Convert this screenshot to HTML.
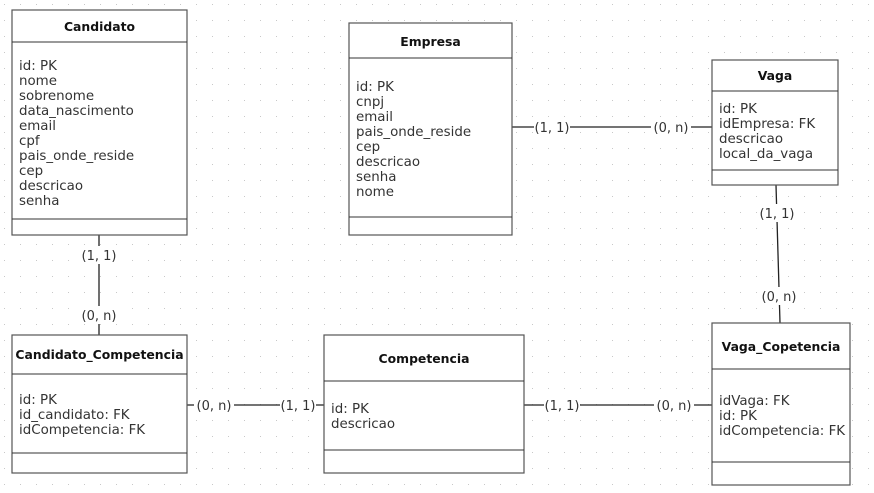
<!DOCTYPE html>
<html><head><meta charset="utf-8"><style>
html,body{margin:0;padding:0;background:#fff;}
svg{display:block;}
text{font-family:"DejaVu Sans","Liberation Sans",sans-serif;font-size:13.4px;fill:#333;}
.h{font-weight:bold;font-size:12.4px;fill:#111;text-anchor:middle;}
.l{font-size:13px;fill:#333;}
rect{fill:#fff;stroke:#555;stroke-width:1.2;}
line{stroke:#222;stroke-width:1.3;}
.s{stroke:#333;stroke-width:1;}
</style></head><body>
<svg width="874" height="493" xmlns="http://www.w3.org/2000/svg">
<defs><pattern id="g" width="16" height="16" patternUnits="userSpaceOnUse" x="4" y="4"><rect x="0" y="0" width="1" height="1" style="fill:#c8c8c8;stroke:none"/></pattern></defs>
<rect x="0" y="0" width="874" height="493" style="fill:url(#g);stroke:none"/>

<line x1="99" y1="235" x2="99" y2="335"/>
<line x1="512" y1="127" x2="712" y2="127"/>
<line x1="776" y1="185" x2="780" y2="323"/>
<line x1="187" y1="405" x2="324" y2="405"/>
<line x1="524" y1="405" x2="712" y2="405"/>

<rect x="81" y="246" width="36" height="18" style="fill:#fff;stroke:none"/>
<rect x="79" y="306" width="40" height="18" style="fill:#fff;stroke:none"/>
<rect x="534" y="118" width="36" height="18" style="fill:#fff;stroke:none"/>
<rect x="651" y="118" width="40" height="18" style="fill:#fff;stroke:none"/>
<rect x="759" y="204" width="36" height="18" style="fill:#fff;stroke:none"/>
<rect x="759" y="287" width="40" height="18" style="fill:#fff;stroke:none"/>
<rect x="194" y="396" width="40" height="18" style="fill:#fff;stroke:none"/>
<rect x="280" y="396" width="36" height="18" style="fill:#fff;stroke:none"/>
<rect x="544" y="396" width="36" height="18" style="fill:#fff;stroke:none"/>
<rect x="654" y="396" width="40" height="18" style="fill:#fff;stroke:none"/>
<g>
<text class="l" x="99" y="260" text-anchor="middle">(1, 1)</text>
<text class="l" x="99" y="320" text-anchor="middle">(0, n)</text>
<text class="l" x="552" y="132" text-anchor="middle">(1, 1)</text>
<text class="l" x="671" y="132" text-anchor="middle">(0, n)</text>
<text class="l" x="777" y="218" text-anchor="middle">(1, 1)</text>
<text class="l" x="779" y="301" text-anchor="middle">(0, n)</text>
<text class="l" x="214" y="410" text-anchor="middle">(0, n)</text>
<text class="l" x="298" y="410" text-anchor="middle">(1, 1)</text>
<text class="l" x="562" y="410" text-anchor="middle">(1, 1)</text>
<text class="l" x="674" y="410" text-anchor="middle">(0, n)</text>
</g>

<rect x="12" y="10" width="175" height="225"/>
<line class="s" x1="12" y1="42" x2="187" y2="42"/>
<line class="s" x1="12" y1="219" x2="187" y2="219"/>
<text class="h" x="99.5" y="31">Candidato</text>
<g><text x="19" y="70">id: PK</text><text x="19" y="85">nome</text><text x="19" y="100">sobrenome</text><text x="19" y="115">data_nascimento</text><text x="19" y="130">email</text><text x="19" y="145">cpf</text><text x="19" y="160">pais_onde_reside</text><text x="19" y="175">cep</text><text x="19" y="190">descricao</text><text x="19" y="205">senha</text></g>

<rect x="349" y="23" width="163" height="212"/>
<line class="s" x1="349" y1="58" x2="512" y2="58"/>
<line class="s" x1="349" y1="217" x2="512" y2="217"/>
<text class="h" x="430.5" y="46">Empresa</text>
<g><text x="356" y="91">id: PK</text><text x="356" y="106">cnpj</text><text x="356" y="121">email</text><text x="356" y="136">pais_onde_reside</text><text x="356" y="151">cep</text><text x="356" y="166">descricao</text><text x="356" y="181">senha</text><text x="356" y="196">nome</text></g>

<rect x="712" y="60" width="126" height="125"/>
<line class="s" x1="712" y1="91" x2="838" y2="91"/>
<line class="s" x1="712" y1="170" x2="838" y2="170"/>
<text class="h" x="775" y="80">Vaga</text>
<g><text x="719" y="113">id: PK</text><text x="719" y="128">idEmpresa: FK</text><text x="719" y="143">descricao</text><text x="719" y="158">local_da_vaga</text></g>

<rect x="12" y="335" width="175" height="138"/>
<line class="s" x1="12" y1="374" x2="187" y2="374"/>
<line class="s" x1="12" y1="453" x2="187" y2="453"/>
<text class="h" x="99.5" y="359">Candidato_Competencia</text>
<g><text x="19" y="404">id: PK</text><text x="19" y="419">id_candidato: FK</text><text x="19" y="434">idCompetencia: FK</text></g>

<rect x="324" y="335" width="200" height="138"/>
<line class="s" x1="324" y1="381" x2="524" y2="381"/>
<line class="s" x1="324" y1="450" x2="524" y2="450"/>
<text class="h" x="424" y="363">Competencia</text>
<g><text x="331" y="413">id: PK</text><text x="331" y="428">descricao</text></g>

<rect x="712" y="323" width="138" height="162"/>
<line class="s" x1="712" y1="369" x2="850" y2="369"/>
<line class="s" x1="712" y1="462" x2="850" y2="462"/>
<text class="h" x="781" y="351">Vaga_Copetencia</text>
<g><text x="719" y="405">idVaga: FK</text><text x="719" y="420">id: PK</text><text x="719" y="435">idCompetencia: FK</text></g>
</svg>
</body></html>
